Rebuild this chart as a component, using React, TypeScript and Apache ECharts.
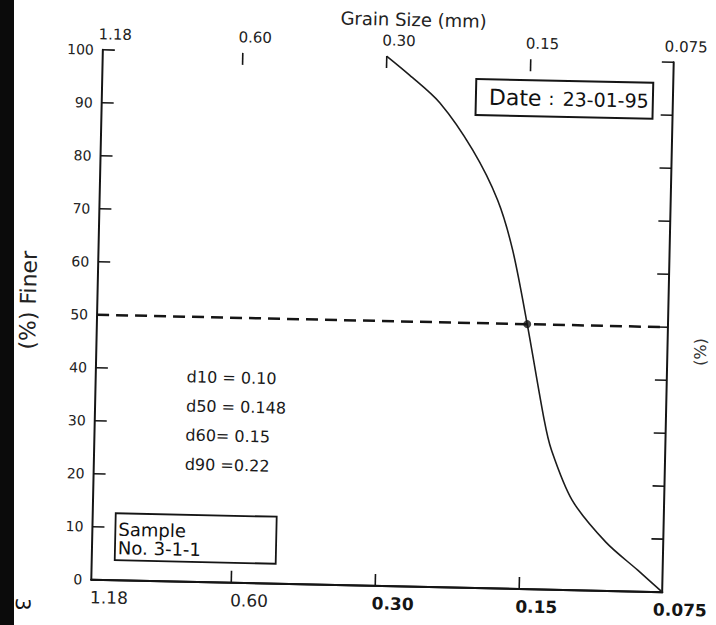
import React, { useEffect, useRef } from "react";
import * as echarts from "echarts";

// ---- data ----
const curveSize = [0.30, 0.268, 0.231, 0.196, 0.173, 0.160, 0.148, 0.135, 0.130, 0.117, 0.099, 0.0845, 0.075];
const curveFiner = [100, 96.5, 91.4, 82.6, 73.3, 63.9, 50, 32, 26.4, 17, 9.2, 4.0, 0];
const d50Size = 0.148;
const d50Finer = 50;
const refLineSize = [1.18, 0.075];
const refLineFiner = [50, 50];
const xTickValues = [1.18, 0.60, 0.30, 0.15, 0.075];
const xTickLabels = ["1.18", "0.60", "0.30", "0.15", "0.075"];
const xInnerTicks = [0.60, 0.30, 0.15];
const boldBottomLabels = ["0.30", "0.15", "0.075"];
const yMin = 0;
const yMax = 100;
const yInterval = 10;
const dLines = ["d10 = 0.10", "d50 = 0.148", "d60= 0.15", "d90 =0.22"];
const dateLabel = "Date";
const dateValue = "23-01-95";
const sampleLines = ["Sample", "No. 3-1-1"];
const xAxisTitle = "Grain Size (mm)";
const yAxisTitle = "(%) Finer";
const pageNumber = "3";
const edgeFragment = "(%)";

const FONT = "DejaVu Sans";
const INK = "#151515";

const xMin = Math.min(...xTickValues);
const xMax = Math.max(...xTickValues);
const labelValues = xTickValues.map((v) =>
  v >= xMax ? v * 0.99995 : v <= xMin ? v * 1.00005 : v
);
const labelFor = (v: number) => {
  let best = 0;
  let bestD = Infinity;
  xTickValues.forEach((t, i) => {
    const d = Math.abs(Math.log(v / t));
    if (d < bestD) {
      bestD = d;
      best = i;
    }
  });
  return xTickLabels[best];
};

export default function App() {
  const ref = useRef<HTMLDivElement>(null);

  useEffect(() => {
    if (!ref.current) return;
    const chart = echarts.init(ref.current, undefined, {
      renderer: "svg",
      width: 716,
      height: 625,
    });

    const axisLine = { show: true, lineStyle: { color: INK, width: 2 } };
    const tickStyle = { color: INK, width: 1.6 };

    const baseX = {
      type: "log" as const,
      logBase: 2,
      min: xMin,
      max: xMax,
      inverse: true,
      splitLine: { show: false },
      minorTick: { show: false },
    };

    const option: any = {
      animation: false,
      backgroundColor: "#ffffff",
      grid: { left: 97, right: 47, top: 56, bottom: 39, containLabel: false },
      xAxis: [
        // bottom: line + labels
        {
          ...baseX,
          position: "bottom",
          axisLine,
          axisTick: { show: false },
          axisLabel: {
            customValues: labelValues,
            margin: 9,
            align: "center",
            padding: [0, 0, 0, 36],
            formatter: (v: number) => {
              const t = labelFor(v);
              return boldBottomLabels.includes(t) ? `{b|${t}}` : `{n|${t}}`;
            },
            rich: {
              b: { fontFamily: FONT, fontSize: 17, fontWeight: "bold", color: INK },
              n: { fontFamily: FONT, fontSize: 17, color: "#222" },
            },
          },
        },
        // top: line + labels + title
        {
          ...baseX,
          position: "top",
          axisLine,
          axisTick: { show: false },
          name: xAxisTitle,
          nameLocation: "middle",
          nameGap: 28,
          nameTextStyle: {
            fontFamily: FONT,
            fontSize: 18,
            color: "#222",
            padding: [0, 0, 0, 49],
          },
          axisLabel: {
            customValues: labelValues,
            margin: 8,
            align: "center",
            padding: [0, 0, 0, 24],
            fontFamily: FONT,
            fontSize: 15,
            color: "#222",
            formatter: (v: number) => labelFor(v),
          },
        },
        // bottom inner ticks
        {
          ...baseX,
          position: "bottom",
          axisLine: { show: false },
          axisLabel: { show: false },
          axisTick: {
            show: true,
            inside: true,
            length: 12,
            alignWithLabel: false,
            customValues: xInnerTicks,
            lineStyle: tickStyle,
          },
        },
        // top inner ticks
        {
          ...baseX,
          position: "top",
          axisLine: { show: false },
          axisLabel: { show: false },
          axisTick: {
            show: true,
            inside: true,
            length: 12,
            alignWithLabel: false,
            customValues: xInnerTicks,
            lineStyle: tickStyle,
          },
        },
      ],
      yAxis: [
        {
          type: "value",
          position: "left",
          min: yMin,
          max: yMax,
          interval: yInterval,
          axisLine,
          axisTick: { show: true, inside: true, length: 12, lineStyle: tickStyle },
          splitLine: { show: false },
          axisLabel: { margin: 9, fontFamily: FONT, fontSize: 14, color: "#222" },
          name: yAxisTitle,
          nameLocation: "middle",
          nameGap: 58,
          nameTextStyle: {
            fontFamily: FONT,
            fontSize: 22,
            color: "#222",
            padding: [0, 0, 0, 26],
          },
        },
        {
          type: "value",
          position: "right",
          min: yMin,
          max: yMax,
          interval: yInterval,
          axisLine,
          axisTick: { show: true, inside: true, length: 12, lineStyle: tickStyle },
          splitLine: { show: false },
          axisLabel: { show: false },
        },
      ],
      series: [
        {
          type: "line",
          name: "Grading curve",
          xAxisIndex: 0,
          yAxisIndex: 0,
          data: curveSize.map((s, i) => [s, curveFiner[i]]),
          smooth: 0.3,
          symbol: "none",
          lineStyle: { color: "#1c1c1c", width: 1.6 },
          z: 3,
        },
        {
          type: "line",
          name: "50% line",
          xAxisIndex: 0,
          yAxisIndex: 0,
          data: refLineSize.map((s, i) => [s, refLineFiner[i]]),
          symbol: "none",
          lineStyle: { color: INK, width: 2.5, type: [12, 7] },
          z: 2,
        },
        {
          type: "scatter",
          name: "d50",
          xAxisIndex: 0,
          yAxisIndex: 0,
          data: [[d50Size, d50Finer]],
          symbolSize: 8,
          itemStyle: { color: INK },
          z: 4,
        },
      ],
      graphic: [
        ...dLines.map((t, i) => ({
          type: "text",
          x: 188,
          y: 381 + i * 29.2,
          style: {
            text: t,
            fontFamily: FONT,
            fontSize: 16,
            fill: "#1a1a1a",
            verticalAlign: "middle",
            align: "left",
          },
        })),
        {
          type: "rect",
          shape: { x: 471, y: 77, width: 177, height: 36 },
          style: { fill: "#fff", stroke: INK, lineWidth: 2 },
        },
        {
          type: "text",
          x: 484,
          y: 95,
          style: {
            text: `{a|${dateLabel}}{c|:}{b|${dateValue}}`,
            verticalAlign: "middle",
            align: "left",
            rich: {
              a: { fontFamily: FONT, fontSize: 22, fill: "#111" },
              c: { fontFamily: FONT, fontSize: 18, fill: "#111", padding: [0, 8, 0, 7] },
              b: { fontFamily: FONT, fontSize: 19, fill: "#111" },
            },
          },
        },
        {
          type: "rect",
          shape: { x: 120, y: 519, width: 161, height: 47 },
          style: { fill: "#fff", stroke: INK, lineWidth: 1.8 },
        },
        ...sampleLines.map((t, i) => ({
          type: "text",
          x: 123,
          y: 535 + i * 18.5,
          style: {
            text: t,
            fontFamily: FONT,
            fontSize: 18,
            fill: "#111",
            verticalAlign: "middle",
            align: "left",
          },
        })),
        {
          type: "text",
          x: 29,
          y: 612,
          rotation: -Math.PI / 2,
          style: {
            text: pageNumber,
            fontFamily: FONT,
            fontSize: 20,
            fill: "#111",
            align: "center",
            verticalAlign: "middle",
          },
        },
        {
          type: "text",
          x: 701,
          y: 345,
          rotation: Math.PI / 2,
          style: {
            text: edgeFragment,
            fontFamily: FONT,
            fontSize: 16,
            fill: "#333",
            align: "center",
            verticalAlign: "middle",
          },
        },
      ],
    };

    chart.setOption(option);
    return () => chart.dispose();
  }, []);

  return (
    <div
      style={{
        position: "absolute",
        left: 0,
        top: 0,
        width: 716,
        height: 625,
        overflow: "hidden",
        background: "#ffffff",
      }}
    >
      <div
        ref={ref}
        style={{
          width: 716,
          height: 625,
          transform: "rotate(1.25deg)",
          transformOrigin: "383px 321px",
        }}
      />
      <div
        style={{
          position: "absolute",
          left: 0,
          top: 0,
          width: 14,
          height: 625,
          background: "#0b0b0b",
        }}
      />
    </div>
  );
}
